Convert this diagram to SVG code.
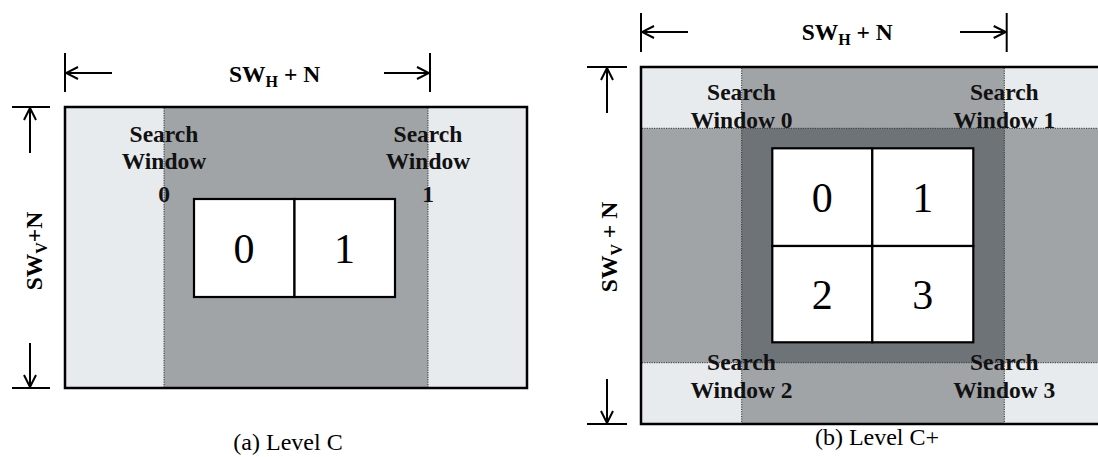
<svg xmlns="http://www.w3.org/2000/svg" width="1098" height="457" viewBox="0 0 1098 457">
<style>
.lt{fill:#e8ebee}
.md{fill:#a0a4a7}
.dk{fill:#6e7377}
.dot{stroke:#333;stroke-width:1;stroke-dasharray:1.2 1.2;fill:none}
.frame{fill:none;stroke:#000;stroke-width:2.5}
.cell{fill:#fff;stroke:#000;stroke-width:2.2}
.ln{stroke:#000;stroke-width:2;fill:none}
.lb{font-family:"Liberation Serif",serif;font-weight:bold;font-size:23.5px;fill:#111;text-anchor:middle}
.dim{font-family:"Liberation Serif",serif;font-weight:bold;font-size:23.5px;fill:#000}
.sub{font-size:16px}
.dg{font-family:"Liberation Serif",serif;font-size:42px;fill:#000;text-anchor:middle}
.cap{font-family:"Liberation Serif",serif;font-size:24px;fill:#000;text-anchor:middle}
</style>
<defs>
<marker id="ah" viewBox="0 0 14 14" refX="13" refY="7" markerWidth="14" markerHeight="14" markerUnits="userSpaceOnUse" orient="auto">
<path d="M1,1 L13,7 L1,13" fill="none" stroke="#000" stroke-width="2"/>
</marker>
</defs>

<g id="levelC">
<rect class="lt" x="65" y="107" width="462" height="281"/>
<rect class="md" x="164" y="107" width="264" height="281"/>
<line class="dot" x1="164" y1="108" x2="164" y2="387"/>
<line class="dot" x1="428" y1="108" x2="428" y2="387"/>
<rect class="frame" x="65" y="107" width="462" height="281"/>
<g id="c-block0"><rect class="cell" x="194" y="199" width="100.5" height="98"/><text class="dg" x="244" y="263">0</text></g>
<g id="c-block1"><rect class="cell" x="294.5" y="199" width="100.5" height="98"/><text class="dg" x="344.5" y="263">1</text></g>
<g id="c-sw0"><text class="lb" x="164" y="142">Search</text><text class="lb" x="164" y="169">Window</text><text class="lb" x="164" y="202">0</text></g>
<g id="c-sw1"><text class="lb" x="428" y="142">Search</text><text class="lb" x="428" y="169">Window</text><text class="lb" x="428" y="202">1</text></g>
<text class="dim" x="229" y="82">SW<tspan class="sub" dy="5">H</tspan><tspan dy="-5"> + N</tspan></text>
<text class="dim" transform="translate(42,251) rotate(-90)" text-anchor="middle">SW<tspan class="sub" dy="5">V</tspan><tspan dy="-5">+N</tspan></text>
<text class="cap" x="288" y="450">(a) Level C</text>
</g>

<g id="levelCplus">
<rect class="md" x="641" y="67" width="464" height="357"/>
<rect class="lt" x="641" y="67" width="100.7" height="61.3"/>
<rect class="lt" x="1004.3" y="67" width="100.7" height="61.3"/>
<rect class="lt" x="641" y="362.7" width="100.7" height="61.3"/>
<rect class="lt" x="1004.3" y="362.7" width="100.7" height="61.3"/>
<rect class="dk" x="741.7" y="128.3" width="262.6" height="234.4"/>
<line class="dot" x1="741.7" y1="68" x2="741.7" y2="423"/>
<line class="dot" x1="1004.3" y1="68" x2="1004.3" y2="423"/>
<line class="dot" x1="642" y1="128.3" x2="1098" y2="128.3"/>
<line class="dot" x1="642" y1="362.7" x2="1098" y2="362.7"/>
<rect class="frame" x="641" y="67" width="464" height="357"/>
<g id="cp-block0"><rect class="cell" x="772.3" y="148.3" width="100" height="97.7"/><text class="dg" x="822.3" y="211.5">0</text></g>
<g id="cp-block1"><rect class="cell" x="872.3" y="148.3" width="101" height="97.7"/><text class="dg" x="922.8" y="211.5">1</text></g>
<g id="cp-block2"><rect class="cell" x="772.3" y="246" width="100" height="96.3"/><text class="dg" x="822.3" y="309">2</text></g>
<g id="cp-block3"><rect class="cell" x="872.3" y="246" width="101" height="96.3"/><text class="dg" x="922.8" y="309">3</text></g>
<g id="cp-sw0"><text class="lb" x="741.5" y="100">Search</text><text class="lb" x="741.5" y="128">Window 0</text></g>
<g id="cp-sw1"><text class="lb" x="1004.3" y="100">Search</text><text class="lb" x="1004.3" y="128">Window 1</text></g>
<g id="cp-sw2"><text class="lb" x="741.5" y="370">Search</text><text class="lb" x="741.5" y="398">Window 2</text></g>
<g id="cp-sw3"><text class="lb" x="1004.3" y="370">Search</text><text class="lb" x="1004.3" y="398">Window 3</text></g>
<text class="dim" x="801.7" y="39.5">SW<tspan class="sub" dy="5">H</tspan><tspan dy="-5"> + N</tspan></text>
<text class="dim" transform="translate(617,247) rotate(-90)" text-anchor="middle">SW<tspan class="sub" dy="5">V</tspan><tspan dy="-5"> + N</tspan></text>
<text class="cap" x="877" y="445">(b) Level C+</text>
</g>

<g id="connectors">
<line class="ln" x1="65" y1="53" x2="65" y2="92"/>
<line class="ln" x1="430" y1="53" x2="430" y2="92"/>
<line class="ln" x1="112" y1="73" x2="66" y2="73" marker-end="url(#ah)"/>
<line class="ln" x1="384" y1="73" x2="429" y2="73" marker-end="url(#ah)"/>
<line class="ln" x1="12" y1="107" x2="50" y2="107"/>
<line class="ln" x1="12" y1="388" x2="50" y2="388"/>
<line class="ln" x1="30" y1="153" x2="30" y2="108" marker-end="url(#ah)"/>
<line class="ln" x1="30" y1="343" x2="30" y2="387" marker-end="url(#ah)"/>

<line class="ln" x1="641" y1="13" x2="641" y2="52"/>
<line class="ln" x1="1006.7" y1="13" x2="1006.7" y2="52"/>
<line class="ln" x1="688" y1="32" x2="642" y2="32" marker-end="url(#ah)"/>
<line class="ln" x1="960" y1="32" x2="1005.7" y2="32" marker-end="url(#ah)"/>
<line class="ln" x1="587" y1="67" x2="627" y2="67"/>
<line class="ln" x1="587" y1="424" x2="627" y2="424"/>
<line class="ln" x1="607" y1="113" x2="607" y2="68" marker-end="url(#ah)"/>
<line class="ln" x1="607" y1="379" x2="607" y2="423" marker-end="url(#ah)"/>
</g>
</svg>
